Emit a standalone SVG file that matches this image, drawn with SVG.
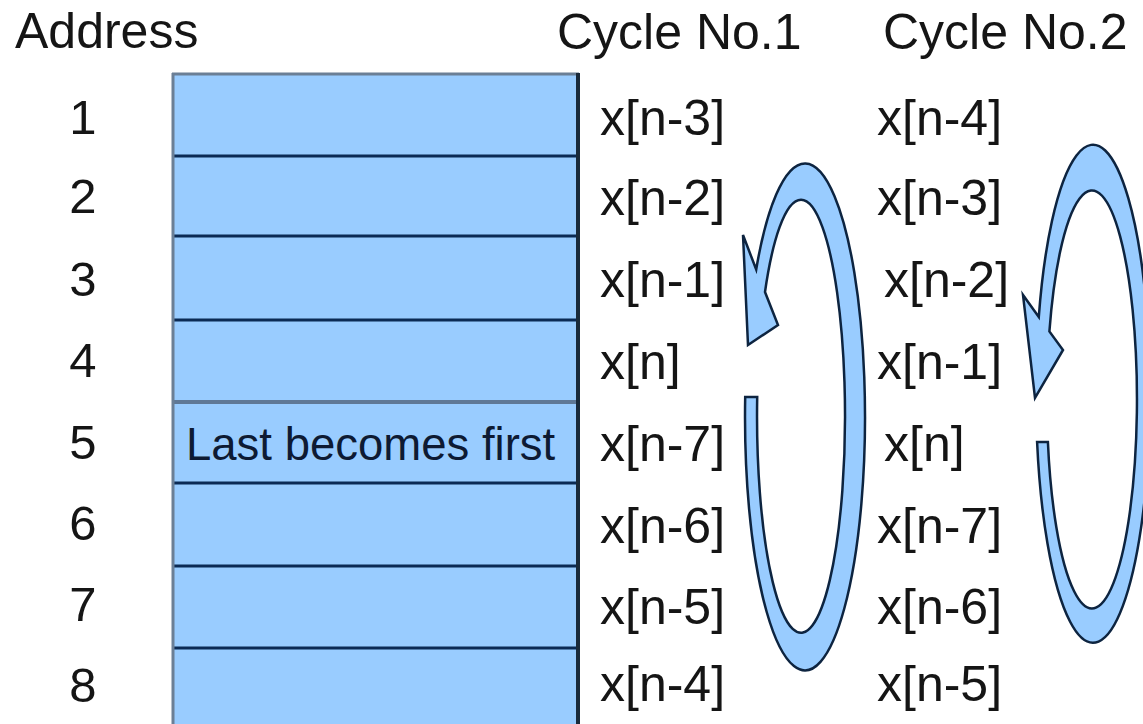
<svg xmlns="http://www.w3.org/2000/svg" width="1143" height="724" viewBox="0 0 1143 724">
<style>
.lbl{font-family:"Liberation Sans",Arial,sans-serif;font-size:50px;fill:#151515}
.num{font-family:"Liberation Sans",Arial,sans-serif;font-size:49px;fill:#151515;text-anchor:middle}
.cell{fill:#99CCFF}
.row{stroke:#0b2a55;stroke-width:3}
.ring{fill:#99CCFF;stroke:#0d2440;stroke-width:2.5;stroke-linejoin:miter}
</style>
<rect width="1143" height="724" fill="#ffffff"/>
<g id="headers">
<text class="lbl" x="15" y="48">Address</text>
<text class="lbl" x="557" y="49">Cycle No.1</text>
<text class="lbl" x="883" y="49">Cycle No.2</text>
</g>
<g id="addresses">
<text class="num" x="83" y="134">1</text>
<text class="num" x="83" y="213">2</text>
<text class="num" x="83" y="296">3</text>
<text class="num" x="83" y="377">4</text>
<text class="num" x="83" y="459">5</text>
<text class="num" x="83" y="540">6</text>
<text class="num" x="83" y="621">7</text>
<text class="num" x="83" y="702">8</text>
</g>
<g id="memory">
<rect class="cell" x="172" y="73" width="407" height="660"/>
<line class="row" x1="172" y1="156" x2="579" y2="156"/>
<line class="row" x1="172" y1="236" x2="579" y2="236"/>
<line class="row" x1="172" y1="320" x2="579" y2="320"/>
<line x1="172" y1="402" x2="579" y2="402" stroke="#5f7896" stroke-width="4"/>
<line class="row" x1="172" y1="483" x2="579" y2="483"/>
<line class="row" x1="172" y1="566" x2="579" y2="566"/>
<line class="row" x1="172" y1="648" x2="579" y2="648"/>
<line x1="172" y1="74" x2="579" y2="74" stroke="#6b7f96" stroke-width="3"/>
<line x1="173" y1="73" x2="173" y2="724" stroke="#6b7f96" stroke-width="3"/>
<line x1="578" y1="73" x2="578" y2="724" stroke="#1a2a3a" stroke-width="4"/>
<text x="186" y="460" font-family="'Liberation Sans',Arial,sans-serif" font-size="45.5" fill="#0d1a33">Last becomes first</text>
</g>
<g id="cycle1">
<text class="lbl" x="600" y="135">x[n-3]</text>
<text class="lbl" x="600" y="215">x[n-2]</text>
<text class="lbl" x="600" y="297">x[n-1]</text>
<text class="lbl" x="600" y="379">x[n]</text>
<text class="lbl" x="600" y="461">x[n-7]</text>
<text class="lbl" x="600" y="543">x[n-6]</text>
<text class="lbl" x="600" y="624">x[n-5]</text>
<text class="lbl" x="600" y="701">x[n-4]</text>
</g>
<g id="cycle2">
<text class="lbl" x="877" y="135">x[n-4]</text>
<text class="lbl" x="877" y="215">x[n-3]</text>
<text class="lbl" x="884" y="297">x[n-2]</text>
<text class="lbl" x="877" y="379">x[n-1]</text>
<text class="lbl" x="884" y="461">x[n]</text>
<text class="lbl" x="877" y="543">x[n-7]</text>
<text class="lbl" x="877" y="624">x[n-6]</text>
<text class="lbl" x="877" y="701">x[n-5]</text>
</g>
<g id="connectors">
<path class="ring" d="M 745.2,397 A 60 253.5 0 1 0 756.2,269.5 L 743,235 L 748,345 L 778,325 L 765,292 A 44 216.5 0 1 1 757.2,397 Z"/>
<path class="ring" d="M 1037.1,442 A 57 249 0 1 0 1038.8,316.9 L 1023,295 L 1035,398 L 1063,350 L 1049.4,331.5 A 45 209 0 1 1 1047.9,442 Z"/>
</g>
</svg>
